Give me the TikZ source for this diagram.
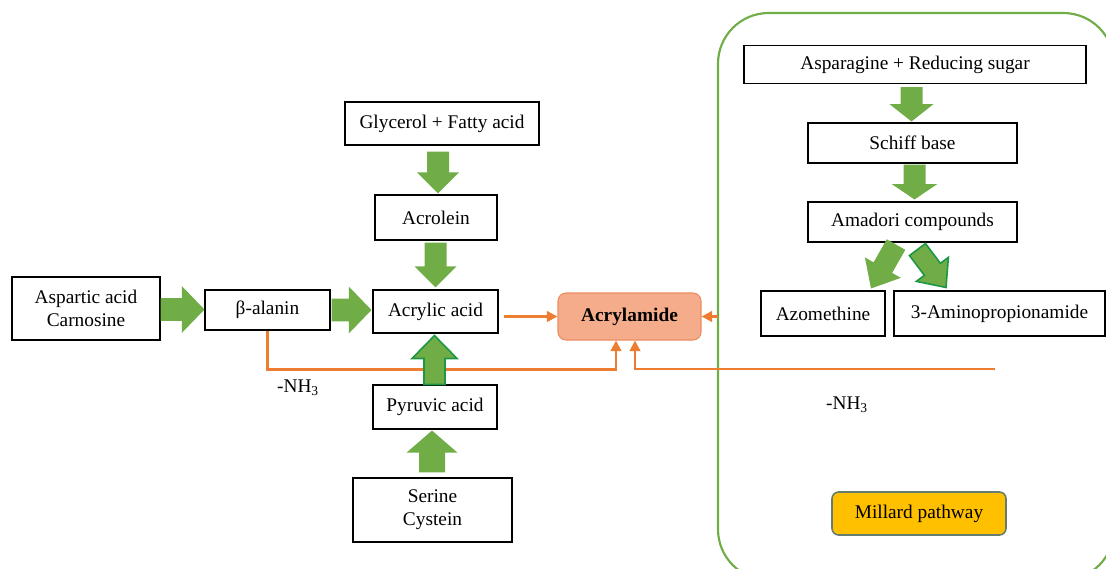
\documentclass[tikz,border=0pt]{standalone}
\usepackage{fontspec}
\setmainfont{Liberation Serif}
\usetikzlibrary{calc,arrows.meta}
\definecolor{gr}{RGB}{112,173,71}
\definecolor{grd}{RGB}{30,150,70}
\definecolor{org}{RGB}{237,125,49}
\definecolor{acfill}{RGB}{245,172,138}
\definecolor{acdraw}{RGB}{236,140,96}
\definecolor{mill}{RGB}{255,192,0}
\definecolor{milldraw}{RGB}{100,125,110}
\newcommand\barrow[6]{%
  \path coordinate (ba-s) at (#2) coordinate (ba-t) at (#3)
        coordinate (ba-h) at ($(ba-t)!#6!(ba-s)$);
  \filldraw[#1] ($(ba-s)!#4!90:(ba-t)$) -- ($(ba-h)!#4!-90:(ba-s)$)
     -- ($(ba-h)!#5!-90:(ba-s)$) -- (ba-t) -- ($(ba-h)!#5!90:(ba-s)$)
     -- ($(ba-h)!#4!90:(ba-s)$) -- ($(ba-s)!#4!-90:(ba-t)$) -- cycle;}
\tikzset{
  box/.style={draw=black, line width=0.8pt, fill=white, inner sep=0pt, align=center,
              font=\fontsize{14.5}{17}\selectfont},
  garrow/.style={fill=gr, draw=none},
  garrowo/.style={fill=gr, draw=grd, line width=1.2pt},
  oline/.style={draw=org, line width=1.8pt},
  oarrow/.style={oline, -{Triangle[length=8pt,width=8pt]}},
  lbl/.style={font=\fontsize{14.5}{17}\selectfont, inner sep=0pt}
}
\begin{document}
\begin{tikzpicture}[x=0.75pt,y=-0.75pt]
\useasboundingbox (0,0) rectangle (1106,568);
\clip (0,0) rectangle (1106,568);
% Maillard frame
\draw[gr, line width=1.6pt, rounded corners=38pt] (718,13) rectangle (1114,580);
% nodes
\node[box, minimum width=111pt, minimum height=47.25pt] (asp) at (86,308.5) {Aspartic acid\\Carnosine};
\node[box, minimum width=93.75pt, minimum height=30pt] (bal) at (267.5,310) {β-alanin};
\node[box, minimum width=93.75pt, minimum height=32.25pt] (acr) at (435.5,311.5) {Acrylic acid};
\node[box, minimum width=145.5pt, minimum height=32.25pt] (gly) at (442,123.5) {Glycerol + Fatty acid};
\node[box, minimum width=91.5pt, minimum height=33.75pt] (acro) at (436,217.5) {Acrolein};
\node[box, minimum width=93pt, minimum height=33pt] (pyr) at (435,407) {Pyruvic acid};
\node[box, minimum width=119.25pt, minimum height=48pt] (ser) at (432.5,510) {Serine\\Cystein};
\node[box, draw=acdraw, fill=acfill, rounded corners=6pt, minimum width=107.25pt, minimum height=35.25pt,
      font=\fontsize{14.5}{17}\selectfont\bfseries] (acam) at (629.5,316.5) {Acrylamide};
\node[box, minimum width=256.5pt, minimum height=28.5pt] (asn) at (915,64.5) {Asparagine + Reducing sugar};
\node[box, minimum width=156.75pt, minimum height=30pt] (sch) at (912.5,143) {Schiff base};
\node[box, minimum width=156.75pt, minimum height=30pt] (ama) at (912.5,222) {Amadori compounds};
\node[box, minimum width=93pt, minimum height=33.75pt] (azo) at (823,313.5) {Azomethine};
\node[box, minimum width=158.25pt, minimum height=33.75pt] (amp) at (999.5,313.5) {3-Aminopropionamide};
\node[box, draw=milldraw, fill=mill, line width=1.2pt, rounded corners=5pt, minimum width=130.5pt,
      minimum height=32.25pt] (mill) at (919,513.5) {Millard pathway};
\node[lbl] (nh1) at (298,388) {-NH\textsubscript{3}};
\node[lbl] (nh2) at (847,405) {-NH\textsubscript{3}};
% orange connectors
\coordinate (rstart) at (995,369);
\coordinate (mleft) at (718,316.5);
\draw[oarrow] ($(acr.east |- acam.west)+(5,0)$) -- (acam.west);
\draw[oarrow] (mleft) -- (acam.east);
\draw[oarrow] (bal.south) |- ($(acam.south)+(-13.5,29)$) -- ($(acam.south)+(-13.5,0)$);
\draw[oarrow] (rstart) -| ($(acam.south)+(5.5,0)$);
% green block arrows
\barrow{garrow}{$(gly.south)+(-4,6)$}{$(acro.north)+(2,-1)$}{8.25pt}{15.75pt}{15.75pt}
\barrow{garrow}{$(acro.south)+(-0.5,2)$}{$(acr.north)+(0,-2)$}{8.25pt}{15.75pt}{15.75pt}
\barrow{garrow}{$(asp.east)+(0,1)$}{$(bal.west)+(0,-0.5)$}{8.6pt}{17.6pt}{17pt}
\barrow{garrow}{$(bal.east)+(1,0)$}{$(acr.west)+(-1,-1.5)$}{8.6pt}{17.6pt}{17pt}
\barrow{garrowo}{$(pyr.north)+(-0.5,0)$}{$(acr.south)+(-1,2)$}{7.9pt}{16.9pt}{17.25pt}
\barrow{garrow}{$(ser.north)+(-0.5,-5)$}{$(pyr.south)+(-3,1)$}{9.75pt}{19pt}{16.5pt}
\barrow{garrow}{$(asn.south)+(-3.5,3)$}{$(sch.north)+(-1,-1)$}{8.25pt}{16.5pt}{13pt}
\barrow{garrow}{$(sch.south)+(2,1)$}{$(ama.north)+(2,-2)$}{8.25pt}{17pt}{11.5pt}
\barrow{garrow}{$(ama.south)+(-16.5,2)$}{$(azo.north)+(48,-2)$}{8pt}{15.5pt}{18pt}
\barrow{garrowo}{$(ama.south)+(5,7)$}{$(amp.north)+(-53.5,-3)$}{7.5pt}{15pt}{17pt}
\end{tikzpicture}
\end{document}
